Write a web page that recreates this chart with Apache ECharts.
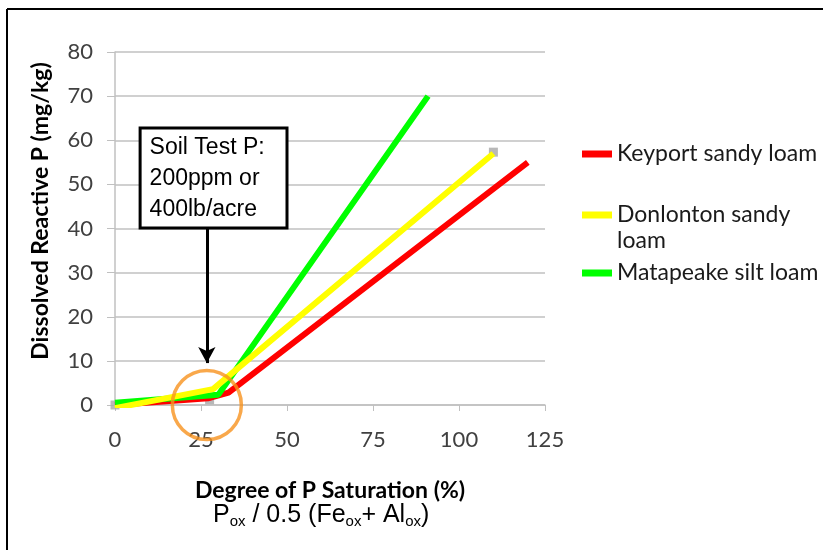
<!DOCTYPE html>
<html>
<head>
<meta charset="utf-8">
<script src="https://cdn.jsdelivr.net/npm/echarts@6/dist/echarts.min.js"></script>
<style>
  html, body { margin: 0; padding: 0; background: #fff; }
  #main { width: 823px; height: 550px; }
</style>
</head>
<body>
<div id="main"></div>
<script>
// data
const seriesNames = ["Keyport sandy loam", "Donlonton sandy loam", "Matapeake silt loam"];
const keyport = [[0, 0], [27, 1.5], [33, 2.8], [120, 55]];
const donlonton = [[0, -0.7], [28.5, 3.6], [110, 57]];
const matapeake = [[0, 0.5], [30, 2.3], [91, 70]];
const greyMarkers = [[0, 0], [27.5, 1.2], [110, 57.3]];
const circleAt = [[26.7, 0]];
const xMax = 125, xStep = 25;
const yMax = 80, yStep = 10;

const chart = echarts.init(document.getElementById("main"));
const font = "Lato";
const grey = "#c0c0c0";

function lineSeries(name, data, color, z) {
  return {
    name: name,
    type: "line",
    data: data,
    symbol: "none",
    z: z,
    lineStyle: { color: color, width: 6 },
    itemStyle: { color: color },
    emphasis: { disabled: true }
  };
}

function legendAt(name, top, text) {
  return {
    data: [name],
    left: 582,
    top: top,
    padding: 0,
    icon: "rect",
    itemWidth: 30,
    itemHeight: 7,
    selectedMode: false,
    formatter: text ? function () { return text; } : undefined,
    textStyle: { fontFamily: font, fontSize: 23, color: "#1a1a1a", lineHeight: 26 }
  };
}

const option = {
  animation: false,
  backgroundColor: "#fff",
  grid: { left: 115, right: 278, top: 52, bottom: 145, outerBoundsMode: "none" },
  legend: [
    legendAt(seriesNames[0], 141),
    legendAt(seriesNames[1], 202, "Donlonton sandy"),
    legendAt(seriesNames[2], 260)
  ],
  xAxis: {
    type: "value",
    min: 0,
    max: xMax,
    interval: xStep,
    name: "Degree of P Saturation (%)",
    nameLocation: "middle",
    nameGap: 74,
    nameTextStyle: { fontFamily: font, fontWeight: "bold", fontSize: 23, color: "#000" },
    splitLine: { show: false },
    axisLine: { lineStyle: { color: grey, width: 1.5 } },
    axisTick: { show: true, length: 6, lineStyle: { color: grey } },
    axisLabel: { margin: 24, fontFamily: font, fontSize: 22, color: "#404040" }
  },
  yAxis: {
    type: "value",
    min: 0,
    max: yMax,
    interval: yStep,
    splitLine: { show: true, lineStyle: { color: grey, width: 1.5 } },
    axisLine: { show: true, lineStyle: { color: grey, width: 1.5 } },
    axisTick: { show: true, length: 8, lineStyle: { color: grey } },
    axisLabel: { margin: 22, fontFamily: font, fontSize: 22, color: "#404040" }
  },
  series: [
    {
      name: "markers",
      type: "scatter",
      data: greyMarkers,
      symbol: "rect",
      symbolSize: 9,
      z: 1,
      itemStyle: { color: "#a6a6a6" },
      silent: true
    },
    lineSeries(seriesNames[0], keyport, "#ff0000", 2),
    lineSeries(seriesNames[2], matapeake, "#00ff00", 3),
    lineSeries(seriesNames[1], donlonton, "#ffff00", 4),
    {
      name: "circle",
      type: "scatter",
      data: circleAt,
      symbol: "circle",
      symbolSize: 69,
      z: 6,
      silent: true,
      itemStyle: { color: "rgba(0,0,0,0)", borderColor: "#f7921e", borderWidth: 3.5 },
      markLine: {
        silent: true,
        symbol: ["none", "arrow"],
        symbolSize: [13, 16],
        label: { show: false },
        lineStyle: { color: "#000", width: 3, type: "solid" },
        data: [[{ coord: [26.7, 40] }, { coord: [26.7, 9.5] }]]
      },
      markArea: {
        silent: true,
        itemStyle: { color: "#fff", borderColor: "#000", borderWidth: 3 },
        label: {
          show: true,
          position: "insideTopLeft",
          distance: 0,
          padding: [6, 0, 0, 11],
          fontFamily: "Liberation Sans",
          fontSize: 23,
          lineHeight: 31,
          color: "#000",
          formatter: "Soil Test P:\n200ppm or\n400lb/acre"
        },
        data: [[{ coord: [7.3, 62.8] }, { coord: [50, 40.1] }]]
      }
    }
  ],
  graphic: [
    { type: "line", shape: { x1: 7, y1: 9, x2: 823, y2: 9 }, style: { stroke: "#000", lineWidth: 2 } },
    { type: "line", shape: { x1: 7, y1: 9, x2: 7, y2: 550 }, style: { stroke: "#000", lineWidth: 2 } },
    {
      type: "text",
      x: 41,
      y: 211,
      rotation: Math.PI / 2,
      style: {
        text: "Dissolved Reactive P (mg/kg)",
        font: "bold 23px Lato",
        fill: "#000",
        align: "center",
        verticalAlign: "middle"
      }
    },
    {
      type: "text",
      left: 617,
      top: 229,
      style: { text: "loam", font: "23px Lato", fill: "#1a1a1a" }
    },
    {
      type: "text",
      left: 213,
      top: 501,
      style: {
        text: "P{s|ox} / 0.5 (Fe{s|ox}+ Al{s|ox})",
        fontFamily: "Liberation Sans",
        fontSize: 25,
        fill: "#000",
        lineHeight: 28,
        rich: {
          s: { fontFamily: "Liberation Sans", fontSize: 15, fill: "#000", lineHeight: 28, verticalAlign: "bottom" }
        }
      }
    }
  ]
};
chart.setOption(option);
</script>
</body>
</html>
